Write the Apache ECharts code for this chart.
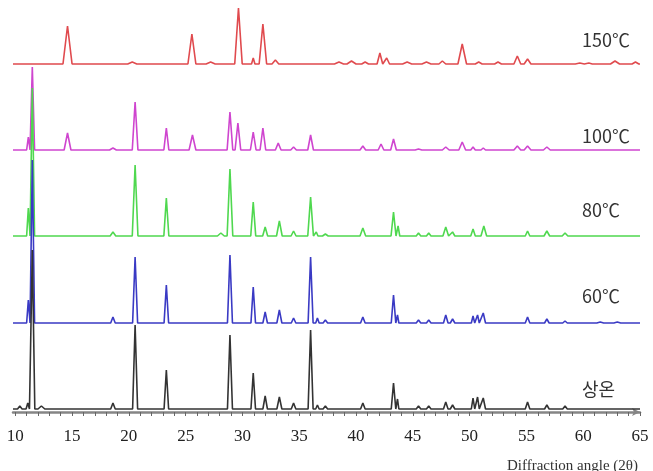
<!DOCTYPE html>
<html>
<head>
<meta charset="UTF-8">
<title>XRD</title>
<script src="https://cdn.jsdelivr.net/npm/echarts@6/dist/echarts.min.js"></script>
<style>
  html, body { margin: 0; padding: 0; background: #fff; }
  #main { width: 653px; height: 471px; }
</style>
</head>
<body>
<div id="main"></div>
<script type="text/javascript">

// x axis labels (2 theta)
var tickLabels = [10, 15, 20, 25, 30, 35, 40, 45, 50, 55, 60, 65];

// sample names, top to bottom
var names = ['150℃', '100℃', '80℃', '60℃', '상온'];

// vertical offset of each trace baseline (stacked plot)
var offsets = [348, 262, 176, 89, 3];

// peaks: [2theta, height above baseline, half width]
var peaks150 = [
	[14.6, 38, 0.4], [20.3, 2, 0.4], [25.55, 30, 0.35], [27.2, 2, 0.4],
	[29.65, 56, 0.33], [30.95, 6, 0.15], [31.8, 40, 0.33], [32.9, 4, 0.3],
	[38.5, 2, 0.4], [39.6, 3, 0.4], [40.8, 2, 0.3], [42.1, 11, 0.25],
	[42.7, 6, 0.25], [44.5, 2, 0.4], [46.2, 2, 0.4], [47.6, 3, 0.3],
	[49.35, 20, 0.38], [50.8, 2, 0.3], [52.5, 2, 0.3], [54.2, 8, 0.3],
	[55.1, 5, 0.3], [59.7, 1, 0.4], [60.5, 1, 0.3], [62.8, 3, 0.4], [64.6, 2, 0.3]
];
var peaks100 = [
	[11.15, 13, 0.15], [11.5, 83, 0.2], [14.6, 17, 0.3], [18.6, 2, 0.3],
	[20.55, 48, 0.25], [23.3, 22, 0.22], [25.6, 15, 0.3], [28.9, 38, 0.25],
	[29.6, 27, 0.25], [30.95, 18, 0.25], [31.8, 22, 0.25], [33.15, 7, 0.25],
	[34.5, 3, 0.25], [36.0, 15, 0.25], [40.6, 4, 0.25], [42.2, 6, 0.25],
	[43.3, 11, 0.25], [45.5, 1, 0.3], [47.9, 3, 0.3], [49.35, 8, 0.3],
	[50.3, 3, 0.2], [51.2, 2, 0.2], [54.2, 4, 0.3], [55.1, 4, 0.3], [56.8, 3, 0.3]
];
var peaks80 = [
	[11.15, 28, 0.15], [11.5, 148, 0.2], [18.6, 4, 0.25], [20.55, 71, 0.25],
	[23.3, 38, 0.22], [28.1, 3, 0.3], [28.9, 67, 0.25], [30.95, 34, 0.22],
	[32.0, 9, 0.22], [33.25, 15, 0.25], [34.5, 5, 0.22], [36.0, 39, 0.25],
	[36.5, 4, 0.15], [37.3, 2, 0.25], [40.6, 8, 0.25], [43.3, 24, 0.22],
	[43.7, 10, 0.15], [45.5, 3, 0.2], [46.4, 3, 0.2], [47.9, 9, 0.25],
	[48.5, 4, 0.2], [50.3, 7, 0.2], [51.25, 10, 0.25], [55.1, 5, 0.2],
	[56.8, 5, 0.25], [58.4, 3, 0.25]
];
var peaks60 = [
	[11.15, 23, 0.15], [11.5, 163, 0.2], [18.6, 6, 0.2], [20.55, 66, 0.22],
	[23.3, 38, 0.2], [28.9, 68, 0.22], [30.95, 36, 0.2], [32.0, 11, 0.2],
	[33.25, 13, 0.22], [34.5, 5, 0.2], [36.0, 66, 0.22], [36.6, 5, 0.15],
	[37.3, 3, 0.2], [40.6, 6, 0.2], [43.3, 28, 0.2], [43.65, 8, 0.12],
	[45.5, 3, 0.2], [46.4, 3, 0.2], [47.9, 8, 0.2], [48.5, 4, 0.2],
	[50.3, 7, 0.15], [50.7, 8, 0.15], [51.2, 10, 0.2], [55.1, 6, 0.2],
	[56.8, 4, 0.2], [58.4, 2, 0.2], [61.5, 1, 0.3], [63.0, 1, 0.3]
];
var peaksRT = [
	[10.4, 3, 0.2], [11.1, 6, 0.15], [11.5, 159, 0.22], [12.3, 3, 0.3],
	[18.6, 6, 0.2], [20.55, 84, 0.22], [23.3, 39, 0.2], [28.9, 74, 0.22],
	[30.95, 36, 0.2], [32.0, 13, 0.2], [33.25, 12, 0.22], [34.5, 6, 0.2],
	[36.0, 79, 0.22], [36.6, 4, 0.15], [37.3, 3, 0.2], [40.6, 6, 0.2],
	[43.3, 26, 0.2], [43.65, 10, 0.12], [45.5, 3, 0.2], [46.4, 3, 0.2],
	[47.9, 7, 0.2], [48.5, 4, 0.2], [50.3, 11, 0.15], [50.7, 12, 0.15],
	[51.2, 11, 0.2], [55.1, 7, 0.2], [56.8, 4, 0.2], [58.4, 3, 0.2]
];

var colors = ['#e04a4e', '#cf45cf', '#4fd84f', '#3a3ac4', '#333333'];
var xStart = 9.8, xEnd = 65;

// turn a peak table into a polyline (baseline - apex - baseline)
function trace(list, off) {
	var pts = [[xStart, off]];
	list.forEach(function (p) {
		pts.push([p[0] - p[2], off]);
		pts.push([p[0], off + p[1]]);
		pts.push([p[0] + p[2], off]);
	});
	pts.push([xEnd, off]);
	return pts;
}

var allPeaks = [peaks150, peaks100, peaks80, peaks60, peaksRT];

var minorTicks = [];
for (var t = 10; t <= 65; t++) minorTicks.push(t);

var chart = echarts.init(document.getElementById('main'));

var series = allPeaks.map(function (pk, i) {
	return {
		name: names[i],
		type: 'line',
		data: trace(pk, offsets[i]),
		symbol: 'none',
		smooth: false,
		z: 2 + i,
		lineStyle: { color: colors[i], width: 1.6 }
	};
});

var labelTops = [31, 127, 201, 287, 380];
var graphics = names.map(function (n, i) {
	return {
		type: 'text',
		left: 582,
		top: labelTops[i],
		style: {
			text: n,
			fill: '#333',
			font: '18px "Liberation Sans Narrow", "Noto Sans CJK KR", sans-serif'
		}
	};
});
graphics.push({
	type: 'text',
	left: 507,
	top: 459,
	style: {
		text: 'Diffraction angle (2θ)',
		fill: '#333',
		font: '15px "Liberation Serif", serif'
	}
});

var option = {
	animation: false,
	backgroundColor: '#fff',
	grid: { left: 13, right: 13, top: 0, bottom: 59 },
	xAxis: {
		type: 'value',
		min: xStart,
		max: xEnd,
		splitLine: { show: false },
		axisLine: {
			show: true,
			symbol: ['none', 'arrow'],
			symbolSize: [6, 8],
			lineStyle: { color: '#858585', width: 2.5 }
		},
		axisTick: {
			show: true,
			customValues: minorTicks,
			length: 4,
			lineStyle: { color: '#666', width: 1 }
		},
		axisLabel: {
			customValues: tickLabels,
			margin: 16,
			color: '#222',
			fontSize: 17,
			fontFamily: '"Liberation Serif", serif'
		}
	},
	yAxis: {
		type: 'value',
		min: 0,
		max: 412,
		show: false
	},
	graphic: graphics,
	series: series
};
chart.setOption(option);

</script>
</body>
</html>
